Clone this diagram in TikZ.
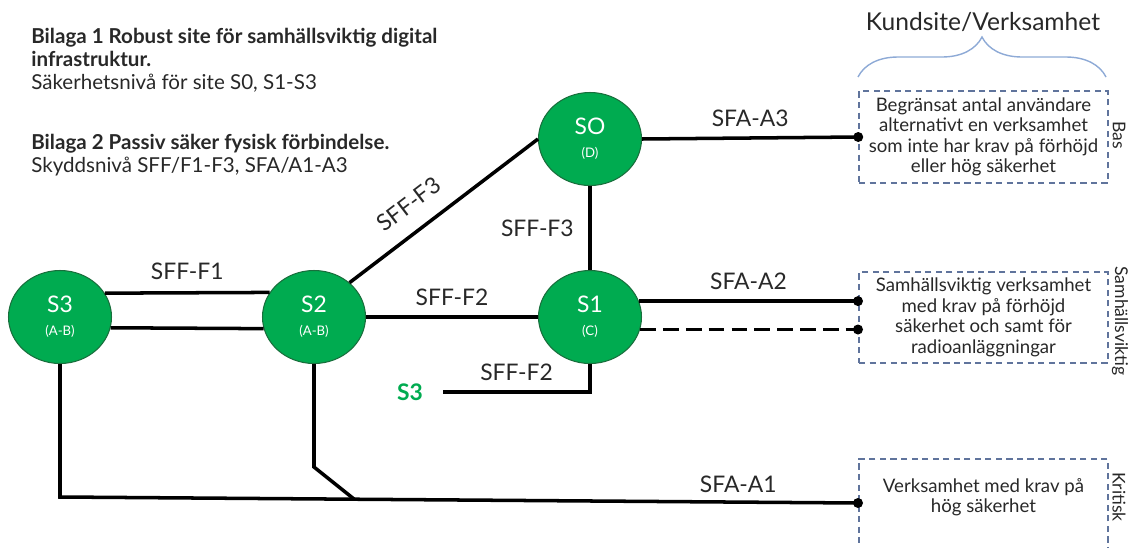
\documentclass[tikz,border=0pt]{standalone}
\usepackage{fontspec}
\setmainfont{Lato}
\usetikzlibrary{arrows,%
                shapes,positioning,decorations.pathreplacing}

\definecolor{sitegreen}{RGB}{0,171,80}
\definecolor{siteedge}{RGB}{25,110,60}
\definecolor{boxline}{RGB}{96,116,156}
\definecolor{bracecol}{RGB}{142,170,214}
\definecolor{txtdark}{RGB}{40,40,40}

\tikzset{
  site/.style={ellipse, draw=siteedge, line width=0.6pt, fill=sitegreen,
               text=white, align=center, inner sep=0pt,
               minimum width=2.06cm, minimum height=1.86cm},
  link/.style={line width=2pt},
  lbl/.style={font=\fontsize{13}{15}\selectfont, text=txtdark},
  kbox/.style={draw=boxline, dash pattern=on 3.5pt off 2.5pt, line width=0.9pt,
               minimum width=4.98cm, align=center, text=txtdark,
               font=\fontsize{10.6}{11.7}\selectfont},
  sidelbl/.style={rotate=-90, font=\fontsize{10}{12}\selectfont, text=txtdark},
  heading/.style={align=left, anchor=north west, inner sep=0pt, text=txtdark,
               font=\fontsize{11.7}{13}\selectfont}
}

\newcommand{\sitetext}[2]{{\fontsize{13}{14}\selectfont #1}\\[1pt]{\fontsize{7.5}{8}\selectfont #2}}

\begin{document}
\begin{tikzpicture}[x=0.02cm, y=-0.02cm]
\useasboundingbox (0,0) rectangle (1134,548);
\clip (0,0) rectangle (1134,548);

% headings
\node[heading] (bilaga1) at (31,28) {\textbf{Bilaga 1 Robust site för samhällsviktig digital}\\
  \textbf{infrastruktur.}\\ Säkerhetsnivå för site S0, S1-S3};
\node[heading] (bilaga2) at (31,134) {\textbf{Bilaga 2 Passiv säker fysisk förbindelse.}\\
  Skyddsnivå SFF/F1-F3, SFA/A1-A3};

% sites
\node[site] (s3) at (60,317) {\sitetext{S3}{(A-B)}};
\node[site] (s2) at (314,317) {\sitetext{S2}{(A-B)}};
\node[site] (s0) at (590,139) {\sitetext{SO}{(D)}};
\node[site] (s1) at (590,317) {\sitetext{S1}{(C)}};
\node[font=\fontsize{13}{15}\selectfont\bfseries, text=sitegreen] (s3ref) at (410,392) {S3};

% kundsite
\node[font=\fontsize{14}{16}\selectfont, text=txtdark] (kund) at (983,22) {Kundsite/Verksamhet};
\draw[bracecol, line width=0.8pt, decorate, decoration={brace, amplitude=0.8cm}]
  (858,77) -- (1106,77);

\node[kbox, minimum height=1.84cm] (bas) at (983.5,137) {Begränsat antal användare\\
  alternativt en verksamhet\\ som inte har krav på förhöjd\\ eller hög säkerhet};
\node[kbox, minimum height=1.82cm] (viktig) at (983.5,317.5) {Samhällsviktig verksamhet\\
  med krav på förhöjd\\ säkerhet och samt för\\ radioanläggningar};
\node[kbox, minimum height=2.6cm, anchor=north] (krit) at (983.5,458) {};
\node[kbox, draw=none] (krittext) at (983.5,497) {Verksamhet med krav på\\ hög säkerhet};

\node[sidelbl] (basl) at (1119,135) {Bas};
\node[sidelbl] (viktigl) at (1120,321) {Samhällsviktig};
\node[sidelbl] (kritl) at (1119,497) {Kritisk};

\coordinate (a3) at (bas.west);
\coordinate (a2) at (858,300);
\coordinate (a2b) at (858,329);
\coordinate (a1) at (858,503);

% links between sites
\draw[link] (s3.28.6) -- node[lbl, above=3pt] {SFF-F1} (s2.151.4);
\draw[link] (s3.-12.4) -- (s2.-167.6);
\draw[link] (s2.east) -- node[lbl, above=2pt] {SFF-F2} (s1.west);
\draw[link] (s2.44) -- node[lbl, pos=0.4, sloped, above=6pt] {SFF-F3} (s0.west);
\draw[link] (s0.south) -- node[lbl, left=5pt] {SFF-F3} (s1.north);
\draw[link] ([xshift=8pt]s3ref.east) -- node[lbl, above=2pt] {SFF-F2} (s3ref.east -| s1.south) -- (s1.south);

% links to kundsite
\draw[link] (s0.east) -- node[lbl, above=2pt] {SFA-A3} (a3);
\draw[link] (s1.18) -- node[lbl, above=2pt] {SFA-A2} (s1.18 -| a2);
\draw[link, dash pattern=on 9pt off 4pt] (s1.-14) -- (s1.-14 -| a2b);
\draw[link] (s3.south) -- (60,497) -- node[lbl, pos=0.85, above=1pt] {SFA-A1} (a1);
\draw[link] (s2.south) -- (314,467) -- (354,499);

\fill (a3) circle (0.1cm);
\fill (s1.18 -| a2) circle (0.1cm);
\fill (s1.-14 -| a2b) circle (0.1cm);
\fill (a1) circle (0.1cm);
\end{tikzpicture}
\end{document}
